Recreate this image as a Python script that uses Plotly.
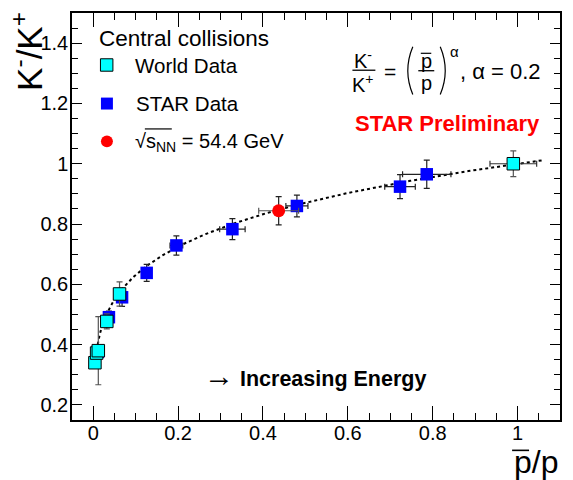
import numpy as np
import plotly.graph_objects as go

# World data (central collisions)
world_x = [0.004, 0.008, 0.012, 0.032, 0.062, 0.99]
world_y = [0.340, 0.372, 0.380, 0.477, 0.568, 1.000]
world_ey = [0.015, 0.015, 0.113, 0.025, 0.040, 0.043]
world_ex = [0.0, 0.0, 0.0, 0.0, 0.0, 0.055]

# STAR data
star_x = [0.011, 0.037, 0.068, 0.126, 0.196, 0.328, 0.480, 0.723, 0.786]
star_y = [0.376, 0.491, 0.557, 0.638, 0.729, 0.783, 0.860, 0.924, 0.965]
star_ey = [0.015, 0.020, 0.030, 0.028, 0.032, 0.035, 0.036, 0.040, 0.047]
star_ex = [0.002, 0.004, 0.006, 0.010, 0.015, 0.030, 0.026, 0.036, 0.057]

# sqrt(s_NN) = 54.4 GeV point
bes_x = [0.437]
bes_y = [0.844]
bes_ey = [0.047]
bes_ex = [0.047]

# Power-law parametrisation K-/K+ = (pbar/p)^alpha
alpha = 0.2
fit_x = np.linspace(0.008, 1.06, 300)
fit_y = fit_x ** alpha

W, H = 573, 480
L, R, T, B = 72, 561, 11, 420
FONT = "Liberation Sans, Arial, Helvetica, sans-serif"


def px(x):
    return (x - L) / (R - L)


def py(y):
    return (B - y) / (B - T)


fig = go.Figure()

fig.add_trace(go.Scatter(
    x=fit_x, y=fit_y, mode="lines",
    line=dict(color="black", width=2, dash="3px,3px"),
    hoverinfo="skip", showlegend=False))

err_style = dict(type="data", color="#222", thickness=1.2, width=3)

fig.add_trace(go.Scatter(
    x=star_x, y=star_y, mode="markers",
    marker=dict(symbol="square", size=12.5, color="#0000ff"),
    error_y=dict(array=star_ey, **err_style),
    error_x=dict(array=star_ex, **err_style),
    showlegend=False))

fig.add_trace(go.Scatter(
    x=world_x, y=world_y, mode="markers",
    marker=dict(symbol="square", size=12.5, color="#00ffff",
                line=dict(color="black", width=1)),
    error_y=dict(array=world_ey, **dict(err_style, color="#555")),
    error_x=dict(array=world_ex, **dict(err_style, color="#333")),
    showlegend=False))

fig.add_trace(go.Scatter(
    x=bes_x, y=bes_y, mode="markers",
    marker=dict(symbol="circle", size=13, color="#ff0000"),
    error_y=dict(array=bes_ey, **err_style),
    error_x=dict(array=bes_ex, **dict(err_style, color="#555")),
    showlegend=False))

shapes = []
annotations = []


def text(s, x, y, size, xanchor="center", color="black", angle=0, yanchor="middle"):
    annotations.append(dict(
        text=s, x=px(x), y=py(y), xref="paper", yref="paper",
        xanchor=xanchor, yanchor=yanchor, showarrow=False, textangle=angle,
        font=dict(family=FONT, size=size, color=color)))


def hline(x0, x1, y, width=1.3):
    shapes.append(dict(type="line", xref="paper", yref="paper",
                       x0=px(x0), x1=px(x1), y0=py(y), y1=py(y),
                       line=dict(color="black", width=width)))


# Legend block
text("Central collisions", 97, 37, 22.5, xanchor="left")
shapes.append(dict(type="rect", xref="paper", yref="paper",
                   x0=px(100.5), x1=px(113), y0=py(57), y1=py(69.5),
                   fillcolor="#00ffff", line=dict(color="black", width=1)))
text("World Data", 133, 64, 20.5, xanchor="left")
shapes.append(dict(type="rect", xref="paper", yref="paper",
                   x0=px(101), x1=px(113), y0=py(96), y1=py(108),
                   fillcolor="#0000ff", line=dict(width=0)))
text("STAR Data", 134, 102, 20.5, xanchor="left")
shapes.append(dict(type="circle", xref="paper", yref="paper",
                   x0=px(101), x1=px(113), y0=py(134), y1=py(146),
                   fillcolor="#ff0000", line=dict(width=0)))
text("√s<sub>NN</sub> = 54.4 GeV", 133, 141, 20, xanchor="left")
hline(145, 172, 127.5, 1.2)

# Formula
text("K<sup>-</sup>", 364, 58, 20)
hline(353, 376, 68.5)
text("K<sup>+</sup>", 364, 82, 20)
text("=", 391, 70, 21)
text("p", 427, 59, 20)
hline(421.5, 432, 51.5, 1.2)
hline(419, 435, 69)
text("p", 427, 81, 20)
text("α", 455, 50, 15)
text(", α = 0.2", 459, 70, 22, xanchor="left")
for xa, xb in ((413.5, 408.5), (441, 446)):
    shapes.append(dict(
        type="path", xref="paper", yref="paper",
        path="M {:.5f},{:.5f} Q {:.5f},{:.5f} {:.5f},{:.5f}".format(
            px(xa), py(45), px(xb - (xa - xb)), py(69), px(xa), py(93)),
        line=dict(color="black", width=1.2)))

text("<b>STAR Preliminary</b>", 448, 122, 22, color="#ff0000")
text("<span style='font-size:30px'>→</span> <b>Increasing Energy</b>",
     315, 375, 21.5)

# Axis titles
text("K<sup>-</sup>/K<sup>+</sup>", 27, 50, 35, angle=-90)
text("p/p", 537, 462, 32)
hline(513, 530, 450.5, 1.6)

fig.update_layout(
    width=W, height=H,
    margin=dict(l=L, r=W - R, t=T, b=H - B),
    paper_bgcolor="white", plot_bgcolor="white",
    font=dict(family=FONT, size=20, color="black"),
    shapes=shapes, annotations=annotations,
    xaxis=dict(range=[-0.05, 1.1], showgrid=False, zeroline=False,
               showline=True, linecolor="black", linewidth=1.5, mirror="allticks",
               ticks="inside", ticklen=14, tickwidth=1.3, tickcolor="black",
               tick0=0, dtick=0.2, ticklabelstandoff=-6,
               minor=dict(ticks="inside", ticklen=7, tickwidth=1, dtick=0.05,
                          tick0=0, tickcolor="black", showgrid=False),
               tickfont=dict(size=20, family=FONT)),
    yaxis=dict(range=[0.15, 1.5], showgrid=False, zeroline=False,
               showline=True, linecolor="black", linewidth=1.5, mirror="allticks",
               ticks="inside", ticklen=10, tickwidth=1.3, tickcolor="black",
               tick0=0, dtick=0.2, ticklabelstandoff=-2,
               minor=dict(ticks="inside", ticklen=6, tickwidth=1, dtick=0.05,
                          tick0=0, tickcolor="black", showgrid=False),
               tickfont=dict(size=20, family=FONT)),
)

fig.write_html("out.html")
